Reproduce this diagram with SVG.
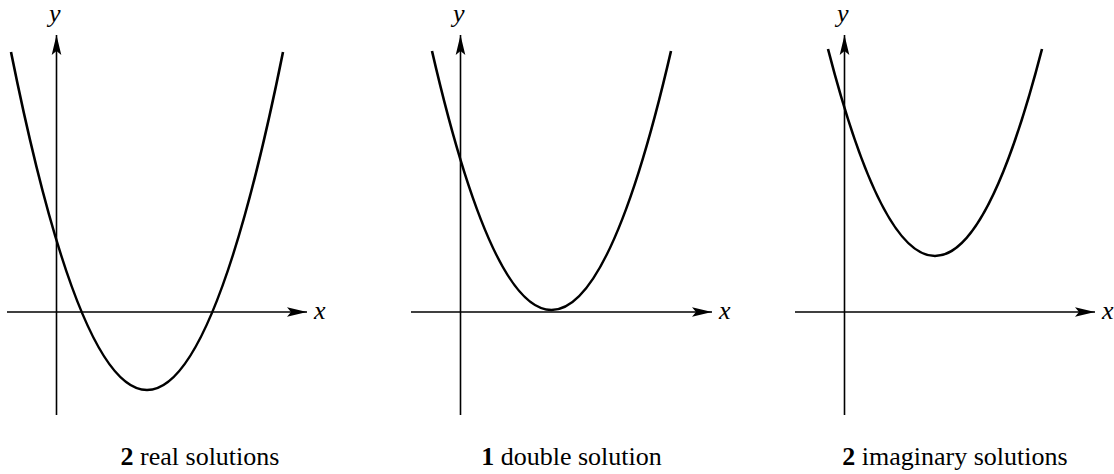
<svg xmlns="http://www.w3.org/2000/svg" width="1114" height="474" viewBox="0 0 1114 474">
<style>
.axis{stroke:#000;stroke-width:1.6;fill:none}
.curve{stroke:#000;stroke-width:2.6;fill:none;stroke-linecap:butt}
.lab{font-style:italic;font-size:26px;fill:#000}
.cap{font-size:26px;fill:#000;text-anchor:middle}
</style>
<defs>
<marker id="ah" markerUnits="userSpaceOnUse" markerWidth="22" markerHeight="12" refX="20" refY="6" orient="auto" viewBox="0 0 22 12">
<path d="M20,6 L0,1.2 L4,6 L0,10.8 Z" fill="#000"/>
</marker>
</defs>
<g id="panel1" font-family="'Liberation Serif', 'Times New Roman', 'DejaVu Serif', serif">
<g class="connectors">
<line class="axis" x1="56.5" y1="415" x2="56.5" y2="35" marker-end="url(#ah)"/>
<line class="axis" x1="7" y1="312" x2="307" y2="312" marker-end="url(#ah)"/>
</g>
<path class="curve" d="M11,52 Q147,728 283,52"/>
<text class="lab" x="49" y="22">y</text>
<text class="lab" x="314" y="319">x</text>
<text class="cap" x="200" y="465"><tspan font-weight="bold">2</tspan> real solutions</text>
</g>
<g id="panel2" font-family="'Liberation Serif', 'Times New Roman', 'DejaVu Serif', serif">
<g class="connectors">
<line class="axis" x1="460.5" y1="415" x2="460.5" y2="35" marker-end="url(#ah)"/>
<line class="axis" x1="411" y1="312" x2="712" y2="312" marker-end="url(#ah)"/>
</g>
<path class="curve" d="M432,51 Q551.5,569 671,51"/>
<text class="lab" x="453" y="22">y</text>
<text class="lab" x="719" y="319">x</text>
<text class="cap" x="571.5" y="465"><tspan font-weight="bold">1</tspan> double solution</text>
</g>
<g id="panel3" font-family="'Liberation Serif', 'Times New Roman', 'DejaVu Serif', serif">
<g class="connectors">
<line class="axis" x1="844.5" y1="415" x2="844.5" y2="35" marker-end="url(#ah)"/>
<line class="axis" x1="795" y1="312" x2="1095" y2="312" marker-end="url(#ah)"/>
</g>
<path class="curve" d="M828,49 Q935,463 1042,49"/>
<text class="lab" x="837" y="22">y</text>
<text class="lab" x="1102" y="319">x</text>
<text class="cap" x="955" y="465"><tspan font-weight="bold">2</tspan> imaginary solutions</text>
</g>
</svg>
